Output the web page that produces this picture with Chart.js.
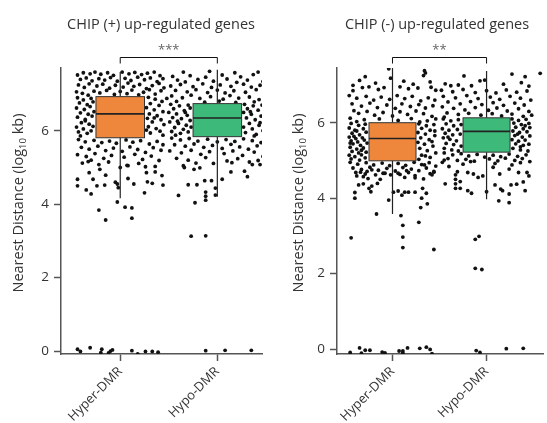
<!DOCTYPE html>
<html>
<head>
<meta charset="utf-8">
<script src="https://cdn.jsdelivr.net/npm/chart.js@4.4.1/dist/chart.umd.min.js"></script>
<style>
  html, body { margin: 0; padding: 0; background: #fff; }
  #wrap { position: relative; width: 547px; height: 423px; }
  #left { position: absolute; left: 0; top: 0; }
  #right { position: absolute; left: 275px; top: 0; }
</style>
</head>
<body>
<div id="wrap">
  <canvas id="left" width="275" height="423"></canvas>
  <canvas id="right" width="272" height="423"></canvas>
</div>
<script>
const categories = ['Hyper-DMR', 'Hypo-DMR'];
const yTicks = [0, 2, 4, 6];

// box stats: [lower whisker, q1, median, q3, upper whisker]
const plusBoxes = [[4.16, 5.81, 6.46, 6.93, 7.6], [4.2, 5.84, 6.35, 6.74, 7.66]];
const minusBoxes = [[3.58, 4.99, 5.58, 6.0, 7.45], [3.97, 5.22, 5.77, 6.13, 7.37]];
const boxColors = ['#EE873B', '#3DBA7A'];

// jittered points: [offset from category, log10 kb]
const plusHyperPts = [
  [-0.44,7.52],[-0.38,7.58],[-0.31,7.55],[-0.26,7.6],[-0.2,7.54],[-0.13,7.58],[-0.07,7.51],[0.02,7.6],[0.09,7.55],[0.15,7.59],[0.22,7.53],[0.28,7.57],[0.35,7.6],[0.41,7.5],
  [-0.41,7.4],[-0.35,7.44],[-0.29,7.36],[-0.22,7.42],[-0.16,7.38],[-0.1,7.45],[-0.03,7.35],[0.05,7.43],[0.11,7.37],[0.18,7.46],[0.25,7.39],[0.31,7.44],[0.38,7.34],[0.44,7.42],
  [-0.43,7.25],[-0.37,7.18],[-0.32,7.28],[-0.24,7.22],[-0.18,7.27],[-0.11,7.16],[-0.05,7.24],[0.03,7.19],[0.08,7.3],[0.14,7.21],[0.2,7.26],[0.27,7.15],[0.33,7.23],[0.4,7.29],[0.45,7.17],
  [-0.45,7.06],[-0.39,7.02],[-0.27,7.08],[-0.21,7.03],[-0.14,7.1],[-0.06,6.99],[0.0,7.07],[0.07,7.01],[0.12,7.11],[0.19,6.98],[0.24,7.05],[0.36,7.0],[0.42,7.09],[-0.33,6.97],[0.3,7.12],
  [-0.44,6.9],[-0.38,6.84],[-0.3,6.88],[-0.42,6.76],[-0.34,6.71],[-0.28,6.79],[-0.45,6.62],[-0.37,6.58],[-0.31,6.66],[-0.41,6.49],[-0.33,6.45],[-0.27,6.52],[-0.44,6.37],
  [-0.36,6.31],[-0.29,6.4],[-0.4,6.22],[-0.32,6.18],[-0.45,6.1],[-0.38,6.05],[-0.28,6.12],[-0.43,5.97],[-0.34,5.93],[-0.3,6.0],[-0.41,5.86],[-0.36,6.27],
  [0.29,6.91],[0.36,6.86],[0.43,6.8],[0.31,6.74],[0.4,6.69],[0.27,6.63],[0.35,6.57],[0.44,6.52],[0.3,6.46],[0.38,6.41],[0.28,6.34],[0.42,6.3],[0.33,6.24],[0.45,6.17],
  [0.29,6.11],[0.37,6.06],[0.41,5.99],[0.31,5.94],[0.44,5.88],[0.35,6.35],[0.27,6.02],
  [-0.43,5.76],[-0.36,5.7],[-0.27,5.74],[-0.19,5.68],[-0.11,5.72],[-0.04,5.66],[0.06,5.75],[0.13,5.69],[0.21,5.73],[0.3,5.64],[0.38,5.71],[0.44,5.62],
  [-0.4,5.55],[-0.32,5.5],[-0.23,5.58],[-0.15,5.46],[-0.07,5.53],[0.02,5.44],[0.1,5.56],[0.18,5.49],[0.26,5.41],[0.34,5.54],[0.42,5.47],
  [-0.44,5.35],[-0.35,5.3],[-0.26,5.38],[-0.17,5.25],[-0.09,5.33],[0.04,5.28],[0.15,5.36],[0.23,5.22],[0.32,5.31],[0.4,5.19],
  [-0.39,5.12],[-0.22,5.08],[-0.12,5.15],[0.08,5.05],[0.19,5.11],[0.36,5.03],[-0.3,5.2],
  [-0.44,4.68],[-0.44,4.5],[-0.35,4.39],[-0.3,4.28],[-0.24,4.5],[-0.28,4.68],[-0.32,4.86],[-0.21,4.95],[-0.15,4.79],[-0.16,4.52],[-0.22,3.84],[-0.15,3.57],
  [-0.03,4.06],[0.05,3.92],[0.12,3.9],[0.12,3.62],[0.25,4.31],[0.43,4.78],[0.44,4.52],[0.33,4.57],[0.28,4.61],[0.27,4.86],[0.36,4.88],[0.26,5.02],
  [0.14,4.55],[0.08,4.7],[-0.05,4.6],[-0.03,4.55],[-0.02,4.45],[0.07,5.06],[0.0,5.0],[-0.33,5.16],
  [-0.44,0.05],[-0.41,-0.01],[-0.31,0.09],[-0.19,0.05],[-0.2,-0.04],[-0.12,-0.05],[-0.1,0.0],[-0.08,0.03],[0.12,0.01],[0.18,-0.08],[0.26,-0.01],[0.33,-0.01],[0.39,-0.03]
];

const plusHypoPts = [
  [-0.35,7.6],[-0.08,7.62],[0.18,7.58],[0.42,7.6],[-0.46,7.48],[-0.28,7.5],[-0.12,7.46],[0.05,7.52],[0.24,7.47],[0.37,7.53],
  [-0.41,7.38],[-0.33,7.33],[-0.2,7.4],[-0.04,7.35],[0.1,7.41],[0.2,7.32],[0.31,7.38],[0.47,7.34],
  [-0.48,7.22],[-0.38,7.26],[-0.25,7.2],[-0.15,7.28],[-0.06,7.18],[0.03,7.25],[0.14,7.21],[0.27,7.27],[0.35,7.19],[0.44,7.24],
  [-0.43,7.1],[-0.31,7.06],[-0.22,7.12],[-0.1,7.04],[0.0,7.11],[0.08,7.03],[0.17,7.09],[0.29,7.05],[0.4,7.12],[0.49,7.0],
  [-0.47,6.95],[-0.36,6.9],[-0.27,6.97],[-0.18,6.88],[-0.07,6.93],[0.06,6.86],[0.13,6.96],[0.22,6.89],[0.33,6.92],[0.43,6.85],
  [-0.42,6.8],[-0.13,6.78],[0.02,6.81],[0.19,6.77],[0.38,6.79],[-0.52,6.88],
  [-0.48,6.72],[-0.39,6.68],[-0.3,6.7],[-0.45,6.6],[-0.34,6.55],[-0.28,6.62],[-0.5,6.5],[-0.42,6.46],[-0.31,6.42],[-0.46,6.36],[-0.37,6.33],[-0.28,6.28],
  [-0.49,6.24],[-0.4,6.2],[-0.32,6.15],[-0.44,6.09],[-0.35,6.04],[-0.27,6.1],[-0.47,5.98],[-0.38,5.93],[-0.3,5.97],[-0.43,5.88],[-0.33,6.5],[-0.41,6.26],
  [0.28,6.72],[0.37,6.68],[0.46,6.7],[0.31,6.6],[0.42,6.56],[0.5,6.62],[0.27,6.5],[0.35,6.45],[0.45,6.4],[0.3,6.35],[0.39,6.3],[0.48,6.27],
  [0.33,6.2],[0.43,6.15],[0.27,6.1],[0.36,6.05],[0.47,6.0],[0.29,5.95],[0.4,5.9],[0.34,6.52],[0.44,6.22],[0.38,5.86],
  [-0.47,5.8],[-0.38,5.75],[-0.29,5.79],[-0.2,5.72],[-0.1,5.77],[0.0,5.7],[0.09,5.76],[0.18,5.71],[0.27,5.78],[0.36,5.73],[0.45,5.68],
  [-0.44,5.62],[-0.33,5.58],[-0.24,5.64],[-0.14,5.55],[-0.05,5.6],[0.05,5.52],[0.14,5.63],[0.23,5.56],[0.32,5.5],[0.41,5.59],
  [-0.49,5.45],[-0.37,5.4],[-0.27,5.47],[-0.17,5.36],[-0.08,5.43],[0.07,5.38],[0.16,5.45],[0.26,5.33],[0.38,5.42],[0.47,5.3],
  [-0.42,5.25],[-0.3,5.2],[-0.12,5.27],[0.1,5.18],[0.21,5.24],[0.33,5.15],[-0.22,5.12],[0.44,5.08],[-0.35,5.05],
  [-0.4,4.24],[-0.23,4.04],[-0.27,3.13],[-0.12,3.14],[-0.12,4.33],[-0.12,4.22],[-0.12,4.11],[-0.02,4.25],[-0.02,4.44],[-0.3,4.53],[-0.21,4.53],[-0.13,4.64],
  [-0.06,4.64],[0.05,4.68],[0.14,4.88],[0.28,4.9],[0.31,4.75],[0.36,5.08],[-0.34,5.0],[-0.24,4.95],[-0.18,4.99],[-0.04,5.11],[0.15,5.13],[0.42,5.19],
  [-0.12,0.01],[0.08,0.02],[0.35,0.02]
];

const minusHyperPts = [
  [-0.04,7.43],[0.34,7.38],[0.35,7.32],[0.33,7.25],[-0.29,7.22],[-0.35,7.12],[-0.42,6.99],[-0.42,6.85],[-0.32,6.93],[-0.25,6.95],[-0.15,6.88],[-0.09,6.93],
  [0.08,6.95],[0.17,6.9],[0.27,6.92],[0.41,6.94],[0.46,6.86],[-0.02,7.18],[0.12,7.1],[-0.18,7.05],[0.22,7.02],[0.4,7.08],
  [-0.46,6.72],[-0.38,6.65],[-0.28,6.7],[-0.2,6.6],[-0.12,6.68],[-0.03,6.62],[0.05,6.72],[0.13,6.64],[0.21,6.7],[0.3,6.58],[0.38,6.66],[0.45,6.6],
  [-0.43,6.5],[-0.33,6.44],[-0.24,6.52],[-0.16,6.4],[-0.06,6.47],[0.03,6.38],[0.1,6.5],[0.19,6.43],[0.28,6.48],[0.35,6.39],[0.43,6.45],
  [-0.41,6.32],[-0.36,6.25],[-0.27,6.3],[-0.19,6.2],[-0.1,6.27],[0.0,6.18],[0.08,6.29],[0.16,6.22],[0.25,6.31],[0.33,6.24],[0.42,6.17],
  [-0.45,6.12],[-0.3,6.08],[-0.14,6.1],[0.06,6.06],[0.2,6.11],[0.37,6.05],[0.46,6.1],[-0.38,6.03],[0.29,6.02],
  [-0.44,5.98],[-0.36,5.93],[-0.29,5.96],[-0.46,5.86],[-0.4,5.8],[-0.31,5.84],[-0.43,5.72],[-0.35,5.68],[-0.28,5.75],[-0.46,5.62],[-0.39,5.58],[-0.32,5.6],
  [-0.44,5.52],[-0.37,5.49],[-0.3,5.54],[-0.42,5.44],[-0.34,5.4],[-0.27,5.46],[-0.45,5.35],[-0.38,5.3],[-0.31,5.33],[-0.43,5.24],[-0.36,5.2],[-0.28,5.22],
  [-0.46,5.14],[-0.4,5.1],[-0.33,5.15],[-0.44,5.04],[-0.35,5.01],[-0.29,5.07],[-0.41,5.64],[-0.33,5.27],[-0.45,5.46],[-0.38,5.78],
  [0.28,5.97],[0.36,5.92],[0.44,5.95],[0.31,5.85],[0.4,5.8],[0.27,5.74],[0.35,5.7],[0.45,5.66],[0.3,5.6],[0.39,5.55],[0.27,5.48],
  [0.34,5.43],[0.43,5.38],[0.29,5.32],[0.37,5.26],[0.46,5.2],[0.31,5.14],[0.4,5.08],[0.28,5.03],[0.42,5.5],[0.35,5.12],[0.45,5.78],
  [-0.45,4.95],[-0.37,4.9],[-0.28,4.94],[-0.2,4.88],[-0.11,4.93],[-0.03,4.86],[0.06,4.92],[0.14,4.87],[0.23,4.95],[0.31,4.89],[0.39,4.94],[0.46,4.85],
  [-0.42,4.8],[-0.33,4.76],[-0.24,4.82],[-0.15,4.74],[-0.06,4.79],[0.03,4.72],[0.11,4.81],[0.2,4.77],[0.28,4.73],[0.36,4.8],[0.44,4.71],
  [-0.39,4.68],[-0.29,4.64],[-0.18,4.62],[-0.1,4.66],[0.08,4.63],[0.17,4.68],[0.24,4.6],[0.4,4.65],[-0.26,4.52],[0.13,4.55],[-0.13,4.5],
  [-0.44,2.95],[-0.17,3.58],[-0.04,3.95],[0.09,3.54],[0.11,3.28],[0.11,2.97],[0.11,2.69],[0.28,3.36],[0.44,2.64],[0.3,3.75],[0.37,3.85],[0.31,4.0],
  [0.36,4.13],[0.32,4.26],[0.24,4.16],[0.17,4.16],[0.13,4.16],[0.1,4.08],[0.06,4.19],[0.01,4.16],[-0.4,4.15],[-0.4,4.0],[-0.36,4.35],[-0.31,4.38],
  [-0.23,4.17],[-0.25,4.26],[-0.22,4.32],[-0.16,4.39],[-0.31,4.57],[-0.38,4.59],[-0.27,4.71],[-0.34,4.69],[-0.22,4.75],[-0.08,4.66],[-0.02,4.62],
  [0.06,4.66],[0.15,4.73],[0.24,4.54],[0.33,4.51],[0.42,4.62],[0.44,4.69],[0.34,4.88],
  [-0.45,-0.09],[-0.35,0.03],[-0.33,-0.11],[-0.29,-0.03],[-0.24,-0.03],[-0.11,-0.08],[-0.08,-0.1],[0.07,-0.05],[0.11,-0.05],[0.11,-0.1],
  [0.16,0.03],[0.29,0.02],[0.36,0.05],[0.4,-0.01],[0.42,-0.12]
];

const minusHypoPts = [
  [-0.24,7.24],[-0.07,7.11],[-0.02,7.13],[0.27,7.29],[0.41,7.22],[0.57,7.31],[-0.44,7.03],[-0.38,6.98],[-0.3,7.0],[-0.16,6.98],[0.18,7.02],[0.37,7.06],[0.45,6.97],
  [-0.48,6.86],[-0.36,6.82],[-0.25,6.88],[-0.12,6.8],[0.0,6.85],[0.1,6.79],[0.21,6.87],[0.32,6.81],[0.43,6.84],
  [-0.46,6.7],[-0.33,6.66],[-0.21,6.72],[-0.09,6.64],[0.04,6.68],[0.14,6.62],[0.25,6.7],[0.36,6.65],[0.47,6.6],
  [-0.41,6.55],[-0.28,6.5],[-0.17,6.56],[-0.05,6.48],[0.07,6.53],[0.18,6.46],[0.3,6.52],[0.4,6.47],
  [-0.47,6.42],[-0.35,6.38],[-0.23,6.34],[-0.12,6.4],[0.02,6.33],[0.11,6.39],[0.22,6.31],[0.34,6.37],[0.45,6.3],
  [-0.42,6.26],[-0.3,6.22],[-0.19,6.25],[-0.06,6.2],[0.06,6.24],[0.16,6.18],[0.27,6.23],[0.39,6.17],[-0.45,6.15],[0.48,6.2],
  [-0.46,6.1],[-0.38,6.05],[-0.3,6.08],[-0.43,5.97],[-0.35,5.92],[-0.27,5.95],[-0.47,5.84],[-0.4,5.8],[-0.31,5.82],[-0.44,5.72],[-0.36,5.68],
  [-0.28,5.7],[-0.46,5.6],[-0.39,5.56],[-0.32,5.52],[-0.43,5.45],[-0.35,5.42],[-0.27,5.38],[-0.45,5.32],[-0.37,5.28],[-0.3,5.25],[-0.41,5.62],
  [0.27,6.1],[0.34,6.06],[0.42,6.09],[0.29,5.99],[0.37,5.95],[0.45,5.98],[0.31,5.88],[0.39,5.84],[0.46,5.87],[0.28,5.78],[0.35,5.74],[0.43,5.76],
  [0.3,5.66],[0.38,5.62],[0.46,5.65],[0.27,5.55],[0.34,5.51],[0.41,5.54],[0.31,5.44],[0.39,5.4],[0.45,5.43],[0.28,5.32],[0.36,5.28],[0.44,5.25],
  [0.33,5.7],[0.41,5.92],[0.36,5.36],
  [-0.45,5.2],[-0.36,5.15],[-0.27,5.18],[-0.19,5.12],[-0.1,5.16],[-0.02,5.09],[0.07,5.14],[0.15,5.1],[0.24,5.17],[0.33,5.11],[0.42,5.15],
  [-0.41,5.05],[-0.31,5.0],[-0.22,5.03],[-0.13,4.98],[0.03,5.04],[0.12,4.99],[0.2,5.06],[0.3,5.0],[0.38,5.05],[0.46,4.97],
  [-0.47,4.95],[-0.25,4.9],[0.09,4.92],[0.27,4.88],
  [-0.12,2.91],[-0.08,2.99],[-0.12,2.14],[-0.05,2.11],[-0.44,4.38],[-0.33,4.62],[-0.33,4.5],[-0.33,4.38],[-0.33,4.26],[-0.28,4.44],[-0.28,4.26],
  [-0.2,4.2],[-0.16,4.13],[0.0,4.17],[0.09,4.35],[0.13,3.93],[0.24,3.88],[0.15,4.24],[0.17,4.2],[0.24,4.11],[0.26,4.35],[0.32,4.37],[0.41,4.2],
  [0.39,4.43],[0.43,4.68],[0.45,4.59],[0.34,4.68],[0.36,4.94],[0.24,4.77],[0.14,4.64],[0.07,4.82],[-0.04,4.59],[-0.09,4.55],[-0.14,4.64],
  [-0.2,4.68],[-0.4,4.84],[-0.45,5.01],[-0.31,4.7],[-0.17,4.97],
  [-0.11,-0.04],[-0.07,-0.09],[0.21,0.01],[0.39,0.02]
];

const FONT = "'Open Sans', 'DejaVu Sans', sans-serif";
const AXIS_COLOR = '#555';
const TEXT_COLOR = '#333';

function toPoints(pts, cat) {
  return pts.map(p => ({ x: cat + p[0], y: p[1] }));
}

// boxes + whiskers on top of the points
const boxPlugin = {
  id: 'boxes',
  afterDatasetsDraw(chart, args, opts) {
    const { ctx, scales: { x, y } } = chart;
    opts.stats.forEach((s, i) => {
      const cx = x.getPixelForValue(i + 1);
      const x0 = x.getPixelForValue(i + 1 - 0.25);
      const x1 = x.getPixelForValue(i + 1 + 0.25);
      const [lo, q1, med, q3, hi] = s.map(v => y.getPixelForValue(v));
      ctx.save();
      ctx.strokeStyle = '#222';
      ctx.lineWidth = 1.2;
      ctx.beginPath();
      ctx.moveTo(cx, lo); ctx.lineTo(cx, q1);
      ctx.moveTo(cx, q3); ctx.lineTo(cx, hi);
      ctx.stroke();
      ctx.fillStyle = boxColors[i];
      ctx.fillRect(x0, q3, x1 - x0, q1 - q3);
      ctx.lineWidth = 1;
      ctx.strokeStyle = '#333';
      ctx.strokeRect(x0, q3, x1 - x0, q1 - q3);
      ctx.lineWidth = 1.6;
      ctx.strokeStyle = '#222';
      ctx.beginPath();
      ctx.moveTo(x0, med); ctx.lineTo(x1, med);
      ctx.stroke();
      ctx.restore();
    });
  }
};

// title, significance bracket, y axis title with subscript
const decorPlugin = {
  id: 'decor',
  afterDraw(chart, args, opts) {
    const { ctx, scales: { x } } = chart;
    ctx.save();
    ctx.fillStyle = TEXT_COLOR;
    ctx.font = '14.5px ' + FONT;
    ctx.textAlign = 'center';
    ctx.textBaseline = 'middle';
    ctx.fillText(opts.title, opts.titleX, 25);

    const a = x.getPixelForValue(1), b = x.getPixelForValue(2);
    ctx.strokeStyle = '#111';
    ctx.lineWidth = 1;
    ctx.beginPath();
    ctx.moveTo(a, 63.5); ctx.lineTo(a, 57.5); ctx.lineTo(b, 57.5); ctx.lineTo(b, 63.5);
    ctx.stroke();
    ctx.fillStyle = '#666';
    ctx.font = '13px ' + FONT;
    ctx.fillText(opts.stars, (a + b) / 2, 50);

    // rotated axis title
    ctx.translate(opts.yTitleX, 203);
    ctx.rotate(-Math.PI / 2);
    ctx.fillStyle = TEXT_COLOR;
    const big = '14.5px ' + FONT, small = '9.5px ' + FONT;
    const p1 = 'Nearest Distance (log', p2 = '10', p3 = ' kb)';
    ctx.font = big; const w1 = ctx.measureText(p1).width, w3 = ctx.measureText(p3).width;
    ctx.font = small; const w2 = ctx.measureText(p2).width;
    let sx = -(w1 + w2 + w3) / 2;
    ctx.textAlign = 'left';
    ctx.textBaseline = 'alphabetic';
    ctx.font = big; ctx.fillText(p1, sx, 5); sx += w1;
    ctx.font = small; ctx.fillText(p2, sx, 8); sx += w2;
    ctx.font = big; ctx.fillText(p3, sx, 5);
    ctx.restore();
  }
};

function makeChart(id, hyperPts, hypoPts, stats, cfg) {
  const tickStyle = { color: TEXT_COLOR, font: { family: FONT, size: 13.5 } };
  return new Chart(document.getElementById(id), {
    type: 'scatter',
    data: {
      datasets: [
        { data: toPoints(hyperPts, 1), pointRadius: 1.9, pointBackgroundColor: '#111', pointBorderWidth: 0 },
        { data: toPoints(hypoPts, 2), pointRadius: 1.9, pointBackgroundColor: '#111', pointBorderWidth: 0 }
      ]
    },
    options: {
      responsive: false,
      animation: false,
      layout: { padding: { top: 68, left: 0, right: cfg.padRight, bottom: 0 } },
      plugins: {
        legend: { display: false },
        tooltip: { enabled: false },
        boxes: { stats: stats },
        decor: { title: cfg.title, titleX: cfg.titleX, stars: cfg.stars, yTitleX: cfg.yTitleX }
      },
      scales: {
        x: {
          type: 'linear',
          min: cfg.xMin, max: cfg.xMax,
          afterBuildTicks: s => { s.ticks = [{ value: 1 }, { value: 2 }]; },
          afterFit: s => { s.height = 69; },
          ticks: { callback: v => categories[v - 1], minRotation: 45, maxRotation: 45, autoSkip: false, padding: 3,
                   color: TEXT_COLOR, font: { family: FONT, size: 13 } },
          grid: { drawOnChartArea: false, drawTicks: true, tickLength: 7, tickColor: AXIS_COLOR, tickWidth: 1.5 },
          border: { color: AXIS_COLOR, width: 1.5 }
        },
        y: {
          min: cfg.yMin, max: cfg.yMax,
          afterBuildTicks: s => { s.ticks = yTicks.map(v => ({ value: v })); },
          afterFit: s => { s.width = cfg.yWidth; },
          ticks: Object.assign({ padding: 5 }, tickStyle),
          grid: { drawOnChartArea: false, drawTicks: true, tickLength: 7, tickColor: AXIS_COLOR, tickWidth: 1.5 },
          border: { color: AXIS_COLOR, width: 1.5 }
        }
      }
    },
    plugins: [boxPlugin, decorPlugin]
  });
}

makeChart('left', plusHyperPts, plusHypoPts, plusBoxes, {
  title: 'CHIP (+) up-regulated genes', titleX: 161, stars: '***', yTitleX: 18,
  xMin: 0.39, xMax: 2.46, yMin: -0.08, yMax: 7.71, yWidth: 61, padRight: 13
});

makeChart('right', minusHyperPts, minusHypoPts, minusBoxes, {
  title: 'CHIP (-) up-regulated genes', titleX: 162, stars: '**', yTitleX: 23,
  xMin: 0.41, xMax: 2.6, yMin: -0.13, yMax: 7.45, yWidth: 62, padRight: 0
});
</script>
</body>
</html>
